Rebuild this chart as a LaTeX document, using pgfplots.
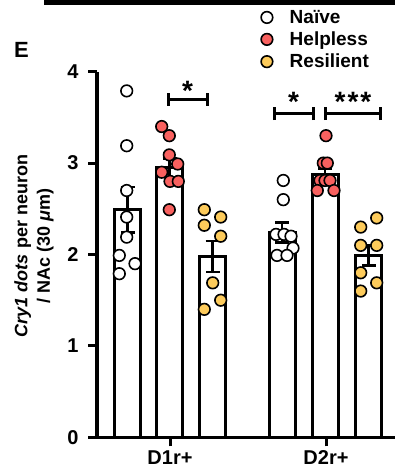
\documentclass[border=0pt]{standalone}
\usepackage{pgfplots}
\pgfplotsset{compat=1.18}
\usepackage{fontspec}
\setmainfont{Liberation Sans}
\definecolor{helpred}{HTML}{F8615F}
\definecolor{resyel}{HTML}{FDCB5B}
\begin{document}
\begin{tikzpicture}[x=1pt,y=1pt]
\path[use as bounding box] (0,0) rectangle (395,474);
\fill[black] (44,469) rectangle (395,474);
\node[font=\fontsize{22}{26}\selectfont\bfseries] at (21.5,424) {E};
\node[rotate=90, align=center, font=\fontsize{18}{22.5}\selectfont\bfseries] at (34,228) {\textit{Cry1 dots} per neuron\\/ NAc (30 \textit{μ}m)};
\begin{axis}[
  at={(97pt,36.7pt)}, anchor=south west,
  scale only axis, width=298pt, height=365.6pt,
  xmin=97, xmax=395, ymin=0, ymax=4,
  clip=false,
  axis x line=bottom, axis y line=left,
  axis line style={line width=3.5pt, -, black},
  ytick={0,1,2,3,4},
  xtick={170,326}, xticklabels={D1r+,D2r+},
  tick style={line width=3pt, black},
  major tick length=9pt, tick align=outside,
  minor tick num=0,
  /pgf/number format/assume math mode=true,
  tick label style={font=\fontsize{20}{24}\selectfont\bfseries},
  yticklabel style={xshift=-6pt},
  xticklabel style={yshift=-1pt},
  legend style={at={(axis description cs:0.540,1.180)}, anchor=north west, draw=none, fill=none,
    font=\fontsize{19}{23}\selectfont\bfseries, row sep=3pt, column sep=15pt},
  legend cell align=left,
]
\addplot[ybar, bar width=26, bar shift=0pt, fill=white, draw=black, line width=3pt, forget plot,
  error bars/.cd, y dir=both, y explicit,
  error bar style={line width=2.5pt, black},
  error mark options={rotate=90, mark size=7pt, line width=2.5pt, black}]
 coordinates {
 (127.5,2.49) +- (0,0.25)
 (169.5,2.95) +- (0,0.10)
 (212.5,1.98) +- (0,0.17)
 (282,2.24) +- (0,0.11)
 (325,2.87) +- (0,0.07)
 (368.5,1.99) +- (0,0.11)
 };
\addplot[only marks, mark=*, mark size=5.8pt, mark options={fill=white, draw=black, line width=1.6pt}]
 coordinates {
 (126.7,3.79) (126.7,3.19) (126.7,2.70) (126.7,2.41) (126.7,2.19) (119.3,1.99) (135,1.90) (119.3,1.79)
 (283.3,2.81) (283.3,2.60) (276,2.22) (284,2.22) (291,2.20) (293,2.07) (277,1.99) (287,1.99)
 };
\addlegendentry{Naïve}
\addplot[only marks, mark=*, mark size=5.8pt, mark options={fill=helpred, draw=black, line width=1.6pt}]
 coordinates {
 (161.7,3.40) (169.3,3.30) (169.3,3.09) (177.7,2.99) (161.7,2.90) (170,2.80) (178.3,2.80) (169.3,2.49)
 (326,3.30) (323.3,3.00) (327.3,3.00) (320,2.81) (325,2.81) (330,2.81) (317.3,2.70) (334,2.70)
 };
\addlegendentry{Helpless}
\addplot[only marks, mark=*, mark size=5.8pt, mark options={fill=resyel, draw=black, line width=1.6pt}]
 coordinates {
 (204.3,2.49) (220.7,2.41) (204.3,2.32) (220.7,2.20) (212.7,1.69) (220.7,1.50) (204.3,1.40)
 (376.7,2.40) (360.7,2.30) (360.7,2.10) (376.7,2.10) (360.7,1.80) (376.7,1.69) (360.7,1.60)
 };
\addlegendentry{Resilient}
% significance brackets
\draw[line width=3pt] (axis cs:168,3.70) -- (axis cs:207,3.70);
\draw[line width=3pt] (axis cs:168,3.63) -- (axis cs:168,3.77);
\draw[line width=3pt] (axis cs:207,3.63) -- (axis cs:207,3.77);
\draw[line width=3pt] (axis cs:274,3.54) -- (axis cs:313,3.54);
\draw[line width=3pt] (axis cs:274,3.47) -- (axis cs:274,3.61);
\draw[line width=3pt] (axis cs:313,3.47) -- (axis cs:313,3.61);
\draw[line width=3pt] (axis cs:325.7,3.54) -- (axis cs:380,3.54);
\draw[line width=3pt] (axis cs:325.7,3.47) -- (axis cs:325.7,3.61);
\draw[line width=3pt] (axis cs:380,3.47) -- (axis cs:380,3.61);
\node[anchor=base, font=\fontsize{28}{32}\selectfont\bfseries] at (axis cs:187.5,3.69) {*};
\node[anchor=base, font=\fontsize{28}{32}\selectfont\bfseries] at (axis cs:293.5,3.56) {*};
\node[anchor=base, font=\fontsize{28}{32}\selectfont\bfseries] at (axis cs:353,3.56) {*\kern2pt*\kern2pt*};
\end{axis}
\end{tikzpicture}
\end{document}
